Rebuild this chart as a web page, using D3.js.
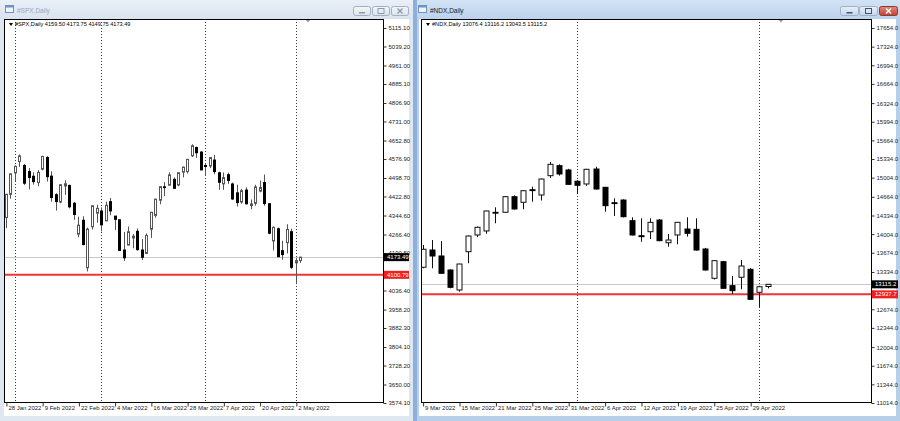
<!DOCTYPE html>
<html><head><meta charset="utf-8">
<script src="https://cdn.jsdelivr.net/npm/d3@7"></script>
<style>
body{margin:0;background:#c5d6ea;}
svg{display:block;}
text{font-family:"Liberation Sans",Arial,sans-serif;}
</style>
</head><body>
<svg id="c" width="900" height="421"></svg>
<script>
// ---------------- DATA ----------------
const spxDates = ["2022-01-28","2022-01-31","2022-02-01","2022-02-02","2022-02-03","2022-02-04","2022-02-07","2022-02-08","2022-02-09","2022-02-10","2022-02-11","2022-02-14","2022-02-15","2022-02-16","2022-02-17","2022-02-18","2022-02-22","2022-02-23","2022-02-24","2022-02-25","2022-02-28","2022-03-01","2022-03-02","2022-03-03","2022-03-04","2022-03-07","2022-03-08","2022-03-09","2022-03-10","2022-03-11","2022-03-14","2022-03-15","2022-03-16","2022-03-17","2022-03-18","2022-03-21","2022-03-22","2022-03-23","2022-03-24","2022-03-25","2022-03-28","2022-03-29","2022-03-30","2022-03-31","2022-04-01","2022-04-04","2022-04-05","2022-04-06","2022-04-07","2022-04-08","2022-04-11","2022-04-12","2022-04-13","2022-04-14","2022-04-18","2022-04-19","2022-04-20","2022-04-21","2022-04-22","2022-04-25","2022-04-26","2022-04-27","2022-04-28","2022-04-29","2022-05-02","2022-05-03"];
const spxOpen  = [4336,4431.8,4519.6,4566.4,4550,4525,4505.8,4480,4535,4583,4506.3,4430,4400,4466,4468,4395,4268,4324.9,4130,4298.4,4354.2,4363.1,4322.6,4401.3,4342.1,4327,4202.7,4223.1,4252.6,4279.5,4202.8,4188.8,4288.1,4345.1,4407.3,4462.4,4469.1,4493.1,4470,4522.9,4525,4590,4624.2,4605,4550,4548,4572.5,4520,4474.7,4512,4474,4437.6,4400,4449.1,4385.6,4395,4445,4480,4393,4240,4290,4200,4233,4278,4150,4159.5];
const spxHigh  = [4432.7,4516.9,4550.5,4595.3,4556,4539.7,4521.9,4531.3,4590,4588.9,4526.3,4436,4472.8,4489.6,4472,4400,4340,4341.5,4294.7,4385.3,4388.8,4378.5,4401.5,4416.8,4342.1,4327,4276.9,4299.4,4268.3,4291,4247.6,4271.1,4358.9,4412.7,4465.4,4481.8,4522,4501.1,4520.6,4546,4575.7,4637.3,4627.8,4610,4560,4583.5,4593.5,4525,4521.2,4520.4,4480,4471,4453.9,4460.5,4410.3,4471,4488.3,4512.9,4395,4299,4295,4240.7,4308.5,4290,4169.8,4173.75];
const spxLow   = [4292.5,4414,4483.5,4544.3,4470.4,4451.5,4471.5,4465.4,4530,4484.3,4401.4,4364.8,4395,4429.7,4373.8,4327.2,4255,4221.5,4114.7,4286.8,4315.1,4279.5,4322.6,4345.6,4285,4199.9,4157.9,4223.1,4209.8,4200.5,4161.7,4187.9,4252,4335.7,4390.6,4424.3,4469.1,4455.8,4465.2,4501.1,4517.7,4585,4581.3,4530.4,4507.6,4539.2,4514.2,4450,4450.3,4474.6,4408.4,4381.3,4392.7,4390.8,4370.3,4385,4440,4384.5,4267.6,4200.8,4175,4162.9,4188.6,4124.3,4062.5,4149.75];
const spxClose = [4431.9,4515.6,4546.5,4589.4,4477.4,4500.5,4483.9,4521.5,4587.2,4504.1,4418.6,4401.7,4471.1,4475,4380.3,4348.9,4304.8,4225.5,4288.7,4384.7,4373.9,4306.3,4386.5,4363.5,4328.9,4201.1,4170.7,4277.9,4259.5,4204.3,4173.1,4262.5,4357.9,4411.7,4463.1,4461.2,4511.6,4456.2,4520.2,4543.1,4575.5,4631.6,4602.5,4532,4545.9,4582.6,4525.1,4481.2,4500.2,4488.3,4412.5,4397.5,4446.6,4392.6,4391.7,4462.2,4459.5,4393.7,4271.8,4296.1,4175.2,4184,4287.5,4131.9,4159,4173.49];
const spxTicks = [5115.10,5039.20,4961.00,4885.10,4806.90,4731.00,4652.80,4576.90,4498.70,4422.80,4344.60,4266.40,4190.50,4112.30,4036.40,3958.20,3882.30,3804.10,3728.20,3650.00,3574.10];
const spxHiddenTicks = [4112.30];
const spxDateLabels = ["2022-01-28","2022-02-09","2022-02-22","2022-03-04","2022-03-16","2022-03-28","2022-04-07","2022-04-20","2022-05-02"];
const spxSeparators = ["2022-02-01","2022-03-01","2022-04-01","2022-05-02"];
const spxBid = 4173.49, spxLevel = 4100.79;
const spxHeader = "#SPX,Daily  4159.50 4173.75 4149.75 4173.49";

const ndxDates = ["2022-03-09","2022-03-10","2022-03-11","2022-03-14","2022-03-15","2022-03-16","2022-03-17","2022-03-18","2022-03-21","2022-03-22","2022-03-23","2022-03-24","2022-03-25","2022-03-28","2022-03-29","2022-03-30","2022-03-31","2022-04-01","2022-04-04","2022-04-05","2022-04-06","2022-04-07","2022-04-08","2022-04-11","2022-04-12","2022-04-13","2022-04-14","2022-04-18","2022-04-19","2022-04-20","2022-04-21","2022-04-22","2022-04-25","2022-04-26","2022-04-27","2022-04-28","2022-04-29","2022-05-02","2022-05-03"];
const ndxOpen  = [13417,13723,13617,13369,13015,13693,13989,14060,14390,14391,14667,14568,14790,14697,15039,15216,15140,14940,14892,15157,14833,14560,14608,14242,13976,14047,14254,13852,13989,14095,14089,13741,13222,13516,13091,13240,13381,12974,13076.4];
const ndxHigh  = [13812,13900,13880,13380,13480,13980,14140,14420,14479,14680,14690,14780,14844,14990,15281,15240,15160,14960,15160,15198,14840,14638,14620,14302,14284,14284,14270,14006,14220,14302,14284,13760,13540,13530,13263,13546,13400,13090,13116.2];
const ndxLow   = [13400,13399,13300,13045,12985,13488,13950,14010,14196,14380,14440,14444,14578,14600,15000,15040,14880,14715,14860,14790,14401,14325,14300,13980,13870,13918,13880,13782,13824,13959,13710,13360,13200,13040,12944,13028,12840,12714,13043.5];
const ndxClose = [13736,13617,13311,13063,13475,13971,14125,14414,14380,14667,14449,14773,14775,14980,15240,15069,14886,14869,15152,14803,14508,14545,14313,13989,13959,14213,13888,13900,14213,14019,13723,13369,13534,13045,13003,13440,12850,13073,13115.2];
const ndxTicks = [17654.0,17324.0,16994.0,16664.0,16324.0,15994.0,15664.0,15334.0,15004.0,14664.0,14334.0,14004.0,13674.0,13334.0,13004.0,12674.0,12344.0,12004.0,11674.0,11344.0,11014.0];
const ndxHiddenTicks = [13004.0];
const ndxDateLabels = ["2022-03-09","2022-03-15","2022-03-21","2022-03-25","2022-03-31","2022-04-06","2022-04-12","2022-04-19","2022-04-25","2022-04-29"];
const ndxSeparators = ["2022-04-01","2022-05-02"];
const ndxBid = 13115.2, ndxLevel = 12937.7;
const ndxHeader = "#NDX,Daily  13076.4 13116.2 13043.5 13115.2";

// ---------------- DRAW ----------------
const svg = d3.select("#c");
const defs = svg.append("defs");
function grad(id, c1, c2){
  const g = defs.append("linearGradient").attr("id",id).attr("x1",0).attr("y1",0).attr("x2",0).attr("y2",1);
  g.append("stop").attr("offset","0%").attr("stop-color",c1);
  g.append("stop").attr("offset","100%").attr("stop-color",c2);
}
grad("tInact","#eaf0f7","#d9e3ee");
grad("tAct","#d3e3f5","#bcd2ec");
grad("bInact","#f4f6f9","#dde3ea");
grad("bAct","#e8f0fa","#c4d6ec");
grad("bClose","#e08a7e","#c2412f");

const parse = d3.timeParse("%Y-%m-%d");
const fmtDate = d3.timeFormat("%-d %b %Y");

function windowChrome(o){
  const g = svg.append("g");
  g.append("rect").attr("x",o.x0).attr("y",0).attr("width",o.x1-o.x0).attr("height",421).attr("fill",o.frame);
  g.append("rect").attr("x",o.x0).attr("y",0).attr("width",o.x1-o.x0).attr("height",19).attr("fill",`url(#${o.active?"tAct":"tInact"})`);
  g.append("rect").attr("x",o.cx0).attr("y",19).attr("width",o.cx1-o.cx0).attr("height",397).attr("fill","#fff");
  const ix = o.x0+5;
  g.append("rect").attr("x",ix+0.5).attr("y",5.5).attr("width",8).attr("height",7).attr("fill","#eef5fc").attr("stroke","#6d93c4");
  g.append("rect").attr("x",ix+0.5).attr("y",5.5).attr("width",8).attr("height",2).attr("fill","#6d93c4");
  g.append("text").attr("x",o.x0+17).attr("y",11).attr("dominant-baseline","middle")
    .attr("font-size","6.5px").attr("fill",o.active?"#1a1a1a":"#9aa7b8").text(o.title);
  o.buttons.forEach((b,i)=>{
    const close = i===2;
    g.append("rect").attr("x",b[0]+0.5).attr("y",6.5).attr("width",b[1]).attr("height",9).attr("rx",2)
      .attr("fill", close && o.active ? "url(#bClose)" : `url(#${o.active?"bAct":"bInact"})`)
      .attr("stroke", close && o.active ? "#8d3a30" : "#9fb0c4");
    const cx = b[0]+b[1]/2+0.5, cy = 11;
    const col = close && o.active ? "#fff" : (o.active ? "#3e5573" : "#8d9aab");
    if(i===0) g.append("rect").attr("x",cx-3).attr("y",cy+1).attr("width",6).attr("height",1.5).attr("fill",col);
    if(i===1) g.append("rect").attr("x",cx-3).attr("y",cy-2.5).attr("width",6).attr("height",5).attr("fill","none").attr("stroke",col);
    if(i===2) g.append("path").attr("d",`M${cx-2.5},${cy-2.5}L${cx+2.5},${cy+2.5}M${cx+2.5},${cy-2.5}L${cx-2.5},${cy+2.5}`).attr("stroke",col).attr("stroke-width",1.4);
  });
}

windowChrome({x0:0,x1:413,cx0:4,cx1:409,frame:"#dfe7f1",active:false,title:"#SPX,Daily",
  buttons:[[353,17],[372,17],[391,17]]});
windowChrome({x0:413,x1:900,cx0:419,cx1:896,frame:"#b8cfea",active:true,title:"#NDX,Daily",
  buttons:[[840,18],[859,18],[879,18]]});
svg.append("rect").attr("x",413).attr("y",0).attr("width",4).attr("height",421).attr("fill","#8eaedb");

function panel(p){
  const g = svg.append("g");
  const bars = p.dates.map((d,i)=>({d, o:p.open[i], h:p.high[i], l:p.low[i], c:p.close[i]}));
  const x = d3.scalePoint().domain(p.dates).range(p.xr);
  const y = d3.scaleLinear().domain([p.ticks[p.ticks.length-1], p.ticks[0]]).range([403, 28]);
  const L = p.plot[0], T = 19, R = p.plot[1], B = 402;

  const clipId = "clip"+p.id;
  defs.append("clipPath").attr("id",clipId).append("rect").attr("x",L).attr("y",T).attr("width",R-L).attr("height",B-T);
  const pg = g.append("g").attr("clip-path",`url(#${clipId})`);

  pg.selectAll("line.sep").data(p.seps).join("line")
    .attr("x1",d=>Math.round(x(d))+0.5).attr("x2",d=>Math.round(x(d))+0.5)
    .attr("y1",T).attr("y2",B).attr("stroke","#3a3a3a").attr("stroke-dasharray","1,2");

  pg.append("line").attr("x1",L).attr("x2",R).attr("y1",Math.round(y(p.bid))+0.5).attr("y2",Math.round(y(p.bid))+0.5)
    .attr("stroke","#c8c8c8");
  pg.append("line").attr("x1",L).attr("x2",R).attr("y1",y(p.level)).attr("y2",y(p.level))
    .attr("stroke","#f23434").attr("stroke-width",2);

  const bw = p.bw;
  const cg = pg.selectAll("g.bar").data(bars).join("g");
  cg.append("line")
    .attr("x1",d=>Math.round(x(d.d))+0.5).attr("x2",d=>Math.round(x(d.d))+0.5)
    .attr("y1",d=>y(d.h)).attr("y2",d=>y(d.l)).attr("stroke",p.wick);
  cg.append("rect")
    .attr("x",d=>Math.round(x(d.d))+0.5-bw/2).attr("width",bw)
    .attr("y",d=>y(Math.max(d.o,d.c))).attr("height",d=>Math.max(0.8,Math.abs(y(d.o)-y(d.c))))
    .attr("fill",d=>d.c>=d.o?"#fff":"#000")
    .attr("stroke",d=>d.c>=d.o?p.wick:"#000");

  g.append("path").attr("d",`M${p.shift-3},${T}L${p.shift+3},${T}L${p.shift},${T+3.5}Z`).attr("fill","#9a9a9a");

  g.append("rect").attr("x",L+0.5).attr("y",T+0.5).attr("width",R-L).attr("height",B-T)
    .attr("fill","none").attr("stroke","#000");

  g.append("path").attr("d",`M${L+5},${T+4}L${L+9},${T+4}L${L+7},${T+7}Z`).attr("fill","#000");
  g.append("text").attr("x",L+11).attr("y",T+6).attr("dominant-baseline","middle")
    .attr("font-size","5.6px").attr("fill","#000").text(p.header);

  const ay = g.append("g").attr("transform",`translate(${R+0.5},0)`)
    .call(d3.axisRight(y).tickValues(p.ticks).tickSize(3).tickPadding(2)
      .tickFormat(d => p.hidden.includes(d) ? "" : p.fmt(d)));
  ay.select(".domain").remove();
  ay.selectAll("line").attr("stroke","#333");
  ay.selectAll("text").attr("font-size","6px").attr("fill","#222").attr("font-family","Liberation Sans, Arial, sans-serif");

  [[p.bid,"#000"],[p.level,"#f01e1e"]].forEach(([v,col])=>{
    const yy = y(v);
    g.append("rect").attr("x",R+1).attr("y",yy-4).attr("width",p.boxW).attr("height",8).attr("fill",col);
    g.append("text").attr("x",R+4).attr("y",yy+0.3).attr("dominant-baseline","middle")
      .attr("font-size","6px").attr("fill","#fff").text(p.fmt(v));
  });

  const ax = g.append("g").attr("transform",`translate(0,${B+0.5})`)
    .call(d3.axisBottom(x).tickValues(p.dateLabels).tickSize(4).tickFormat(d=>fmtDate(parse(d))));
  ax.select(".domain").remove();
  ax.selectAll(".tick line").attr("stroke","#333").attr("transform","translate(0.5,0)");
  ax.selectAll("text").attr("font-size","6px").attr("fill","#222").attr("text-anchor","start")
    .attr("x",2).attr("y",3).attr("dy","0.71em").attr("font-family","Liberation Sans, Arial, sans-serif");
}

panel({id:"spx", dates:spxDates, open:spxOpen, high:spxHigh, low:spxLow, close:spxClose,
  ticks:spxTicks, hidden:spxHiddenTicks, dateLabels:spxDateLabels, seps:spxSeparators, bid:spxBid, level:spxLevel,
  header:spxHeader, xr:[5.9, 5.9+65*4.53], plot:[4,383], bw:2, wick:"#555",
  fmt:d3.format(".2f"), boxW:25, shift:308});
panel({id:"ndx", dates:ndxDates, open:ndxOpen, high:ndxHigh, low:ndxLow, close:ndxClose,
  ticks:ndxTicks, hidden:ndxHiddenTicks, dateLabels:ndxDateLabels, seps:ndxSeparators, bid:ndxBid, level:ndxLevel,
  header:ndxHeader, xr:[422.6, 422.6+38*9.1], plot:[421,871], bw:5, wick:"#111",
  fmt:d3.format(".1f"), boxW:26, shift:781});
</script>
</body></html>
